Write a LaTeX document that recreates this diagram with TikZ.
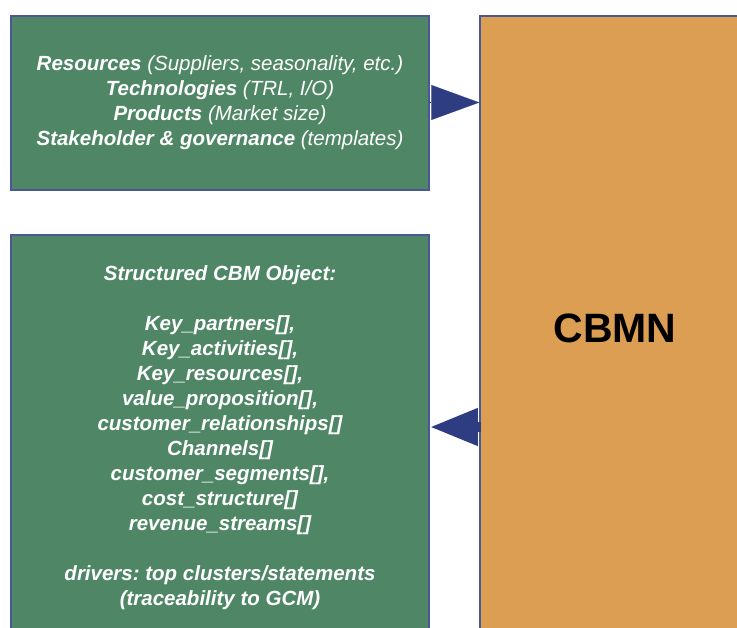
\documentclass[tikz,border=0pt]{standalone}
\usepackage{fontspec}
\setmainfont{Liberation Sans}
\usetikzlibrary{arrows.meta}
\frenchspacing
\definecolor{boxgreen}{HTML}{4F8766}
\definecolor{boxorange}{HTML}{DC9E52}
\definecolor{edgeblue}{HTML}{4A5899}
\definecolor{arrowblue}{HTML}{2E3D82}
\tikzset{
  greenbox/.style={draw=edgeblue, line width=1.5bp, fill=boxgreen, text=white,
    align=center, inner sep=0pt, font=\fontsize{20.5bp}{25bp}\selectfont\itshape},
  orangebox/.style={draw=edgeblue, line width=1.5bp, fill=boxorange, inner sep=0pt,
    font=\fontsize{41bp}{45bp}\selectfont\bfseries},
  bigarrow/.style={draw=arrowblue, fill=arrowblue, line width=10bp,
    -{Triangle[length=48bp,width=35bp]}},
}
\begin{document}
\begin{tikzpicture}[x=1bp,y=-1bp]
\useasboundingbox (0,0) rectangle (737,628);
\clip (0,0) rectangle (737,628);
\node[greenbox, minimum width=418bp, minimum height=174bp] (top) at (220,103)
  {\textbf{Resources} (Suppliers, seasonality, etc.)\\
   \textbf{Technologies} (TRL, I/O)\\
   \textbf{Products} (Market size)\\
   \textbf{Stakeholder \& governance} (templates)};
\node[greenbox, font=\fontsize{20.5bp}{25bp}\selectfont\bfseries\itshape,
  minimum width=418bp, minimum height=405bp] (cbm) at (220,437.5)
  {Structured CBM Object:\\[25bp]
   Key\_partners[],\\
   Key\_activities[],\\
   Key\_resources[],\\
   value\_proposition[],\\
   customer\_relationships[]\\
   Channels[]\\
   customer\_segments[],\\
   cost\_structure[]\\
   revenue\_streams[]\\[25bp]
   drivers: top clusters/statements\\
   (traceability to GCM)};
\node[orangebox, minimum width=270bp, minimum height=624bp] (cbmn) at (615,328)
  {CBMN};
\coordinate (a1) at (429,102.5);
\coordinate (b2) at (481,427);
\draw[bigarrow, line width=0.1bp] (a1) -- (a1 -| cbmn.west);
\draw[bigarrow] (b2) -- (b2 -| cbm.east);
\end{tikzpicture}
\end{document}
